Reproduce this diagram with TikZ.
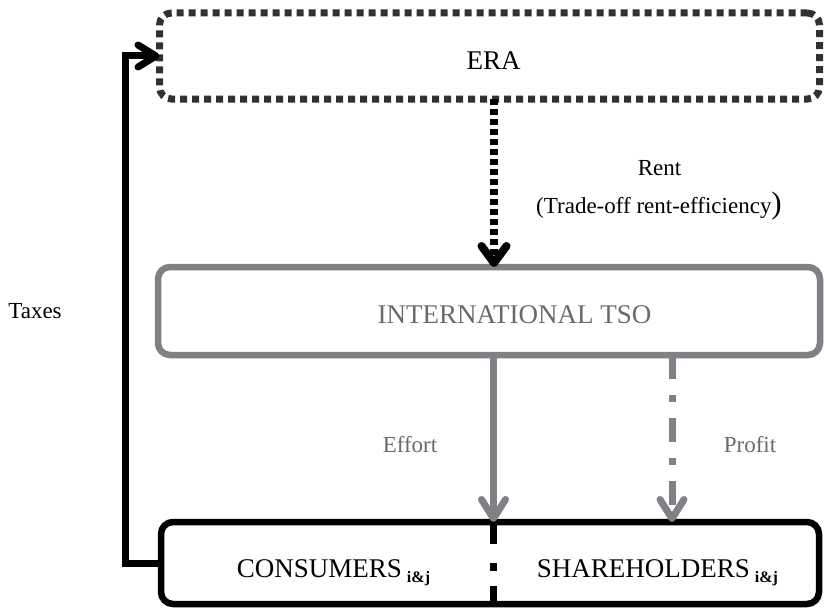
\documentclass[tikz,border=0pt]{standalone}
\usepackage{fontspec}
\setmainfont{Liberation Serif}
\usetikzlibrary{arrows.meta}

\definecolor{eragray}{RGB}{48,49,52}
\definecolor{tsogray}{RGB}{128,128,133}
\definecolor{txtgray}{RGB}{105,105,110}

\newcommand{\subij}{\hspace{5pt}\raisebox{-5pt}{\fontsize{16}{16}\selectfont\bfseries i\&j}}

\begin{document}
\begin{tikzpicture}[
  x=1pt, y=-1pt,
  boxbase/.style={rectangle, rounded corners=12pt, inner sep=0pt, outer sep=0pt},
  bigtext/.style={anchor=base, font=\fontsize{27}{32}\selectfont},
  lbltext/.style={anchor=base, font=\fontsize{23}{28}\selectfont},
  barb/.tip={Straight Barb[length=19pt, width=24pt, round]},
  rentbarb/.tip={Straight Barb[length=17pt, width=25pt, round]},
  taxbarb/.tip={Straight Barb[length=18pt, width=22pt, round]},
]
\useasboundingbox (0,0) rectangle (824,610);

% boxes
\node[boxbase, draw=eragray, line width=7pt, dash pattern=on 7pt off 5pt,
      minimum width=660pt, minimum height=86pt] (era) at (489.5,56) {};
\node[boxbase, draw=tsogray, line width=6.5pt,
      minimum width=662pt, minimum height=88pt] (tso) at (489,311) {};
\node[boxbase, draw=black, line width=6.5pt,
      minimum width=658pt, minimum height=82pt] (bot) at (490,563) {};

% box texts
\node[bigtext] (eraT) at (493.5,70) {ERA};
\node[bigtext, text=txtgray] (tsoT) at (514.5,323) {INTERNATIONAL TSO};
\node[bigtext] (consT) at (333.5,577) {CONSUMERS\subij};
\node[bigtext] (shareT) at (657.5,577) {SHAREHOLDERS\subij};

% columns of the vertical connectors
\coordinate (xr) at (494,0);
\coordinate (xe) at (493.5,0);
\coordinate (xp) at (672,0);
\coordinate (xd) at (493,0);
\coordinate (xt) at (125.5,0);

% rent: regulator to TSO
\draw[black, line width=8pt, dash pattern=on 6pt off 4pt, -rentbarb]
  (era.south -| xr) -- (tso.north -| xr);

% effort and profit
\draw[tsogray, line width=7pt, -barb] (tso.south -| xe) -- (bot.north -| xe);
\draw[tsogray, line width=7pt, dash pattern=on 24pt off 16pt on 7pt off 16pt, -barb]
  (tso.south -| xp) -- (bot.north -| xp);

% divider between consumers and shareholders
\draw[black, line width=7pt, dash pattern=on 22pt off 19pt on 8pt off 15pt on 40pt]
  (bot.north -| xd) -- (bot.south -| xd);

% taxes: consumers back to the regulator
\draw[black, line width=7pt, line join=miter, -taxbarb]
  (bot.west) -| (xt |- era.west) -- (era.west);

% labels
\node[lbltext] (rentT) at (659.5,175) {Rent};
\node[lbltext] (tradeT) at (659,213) {(Trade-off rent-efficiency{\fontsize{31}{31}\selectfont )}};
\node[lbltext, text=txtgray] (effortT) at (410,452) {Effort};
\node[lbltext, text=txtgray] (profitT) at (750,452) {Profit};
\node[lbltext] (taxesT) at (35,318) {Taxes};
\end{tikzpicture}
\end{document}
